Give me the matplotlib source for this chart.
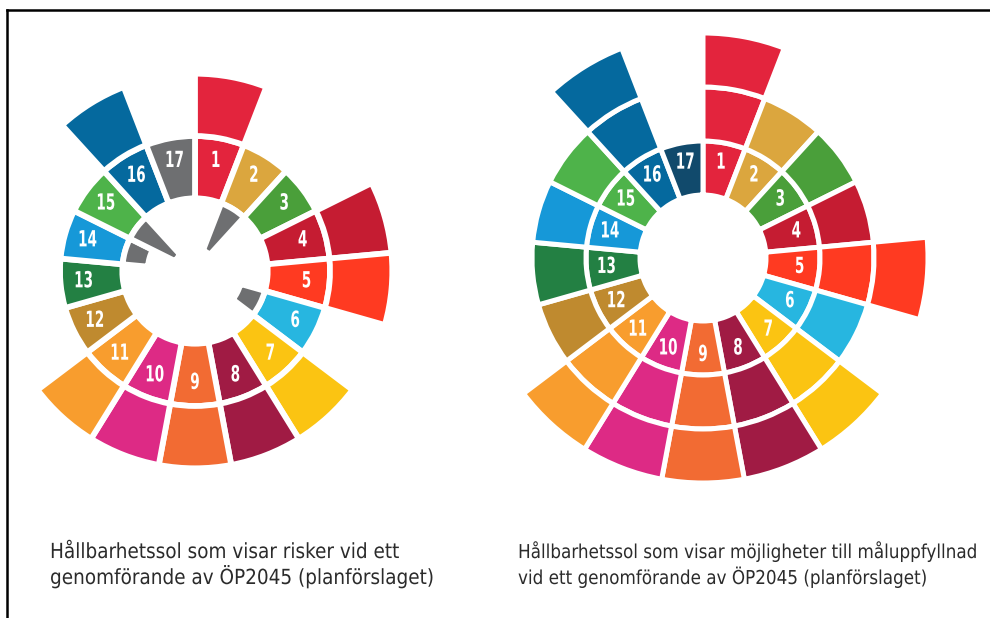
import numpy as np
import matplotlib
matplotlib.use('Agg')
import matplotlib.pyplot as plt
from matplotlib.lines import Line2D
from matplotlib.patheffects import AbstractPathEffect
from matplotlib.transforms import Affine2D

# SDG goals 1-17
goals = list(range(1, 18))
sdg_colors = ['#E3243D', '#DBA63E', '#4A9F3A', '#C51C32', '#FF3A21', '#27B6E0',
              '#FBC412', '#A01B44', '#F26B33', '#DD2A85', '#F89D2E', '#BF8A2F',
              '#238043', '#1698D8', '#4EB34A', '#05699E', '#114A6C']
grey = '#6E6F71'

# left sun: risks (grey wedges pointing inward)
left_levels = [2, 1, 1, 2, 2, 1, 2, 2, 2, 2, 2, 1, 1, 1, 1, 2, 1]
left_risk = [0, 2, 0, 0, 0, 1, 0, 0, 0, 0, 0, 0, 0, 1, 2, 0, 0]
# right sun: opportunities
right_levels = [3, 2, 2, 2, 3, 2, 3, 3, 3, 3, 3, 2, 2, 2, 2, 3, 1]
right_risk = [0] * 17

caption_left = 'Hållbarhetssol som visar risker vid ett\ngenomförande av ÖP2045 (planförslaget)'
caption_right = 'Hållbarhetssol som visar möjligheter till måluppfyllnad\nvid ett genomförande av ÖP2045 (planförslaget)'

R0 = 63      # inner radius of the sun
STEP = 54    # ring thickness
NEG = 22     # depth of one risk step
RMAX = 235

W, H = 990, 618
fig = plt.figure(figsize=(W / 100, H / 100), dpi=100)


class Squeeze(AbstractPathEffect):
    """narrow the glyphs horizontally (font in the original is condensed)"""
    def __init__(self, sx, anchor='center'):
        super().__init__()
        self.sx = sx
        self.anchor = anchor

    def draw_path(self, renderer, gc, tpath, affine, rgbFace=None):
        ext = tpath.get_extents(affine)
        x0 = (ext.x0 + ext.x1) / 2 if self.anchor == 'center' else ext.x0
        aff = affine + Affine2D().translate(-x0, 0).scale(self.sx, 1).translate(x0, 0)
        renderer.draw_path(gc, tpath, aff, rgbFace)


def draw_sun(rect, levels, risk, colors, scale):
    ax = fig.add_axes(rect, projection='polar')
    ax.set_theta_zero_location('N')
    ax.set_theta_direction(-1)
    ax.set_facecolor('none')
    n = len(goals)
    width = 2 * np.pi / n
    lw = 3.6 * scale
    for i, g in enumerate(goals):
        th = (g - 0.5) * width
        for k in range(levels[i]):
            ax.bar(th, STEP, width=width, bottom=R0 + k * STEP, color=colors[i],
                   edgecolor='white', linewidth=lw, align='center')
        if risk[i] > 0:
            d = NEG * risk[i]
            ax.bar(th, d, width=width, bottom=R0 - d, color=grey,
                   edgecolor='white', linewidth=lw, align='center')
        ax.text(th, R0 + 34, str(g), color='white', ha='center', va='center',
                fontsize=16, fontweight='bold', fontstretch='condensed',
                family='DejaVu Sans', path_effects=[Squeeze(0.68)])
    ax.set_ylim(0, RMAX)
    ax.axis('off')
    return ax


def rect_for(cx, cy, scale):
    r = RMAX * scale
    return [(cx - r) / W, (H - cy - r) / H, 2 * r / W, 2 * r / H]


left_colors = sdg_colors[:16] + [grey]
s_left = 75 / 65.0
draw_sun(rect_for(195, 271, s_left), left_levels, left_risk, left_colors, s_left)
draw_sun(rect_for(703, 258, 1.0), right_levels, right_risk, sdg_colors, 1.0)

# captions
for x, cap, fs, ls, sq in [(50, caption_left, 15, 1.12, 0.985),
                           (518, caption_right, 13.8, 1.22, 0.975)]:
    fig.text(x / W, 1 - 584 / H, cap, ha='left', va='baseline', fontsize=fs,
             color='#2b2b2b', linespacing=ls, family='DejaVu Sans',
             fontstretch='condensed', path_effects=[Squeeze(sq, 'left')])

# frame lines (top and left only)
fig.add_artist(Line2D([7 / W, 1], [1 - 10 / H, 1 - 10 / H], color='black', lw=1.8))
fig.add_artist(Line2D([7 / W, 7 / W], [0, 1 - 10 / H], color='black', lw=1.8))

fig.savefig('out.png', dpi=100)
